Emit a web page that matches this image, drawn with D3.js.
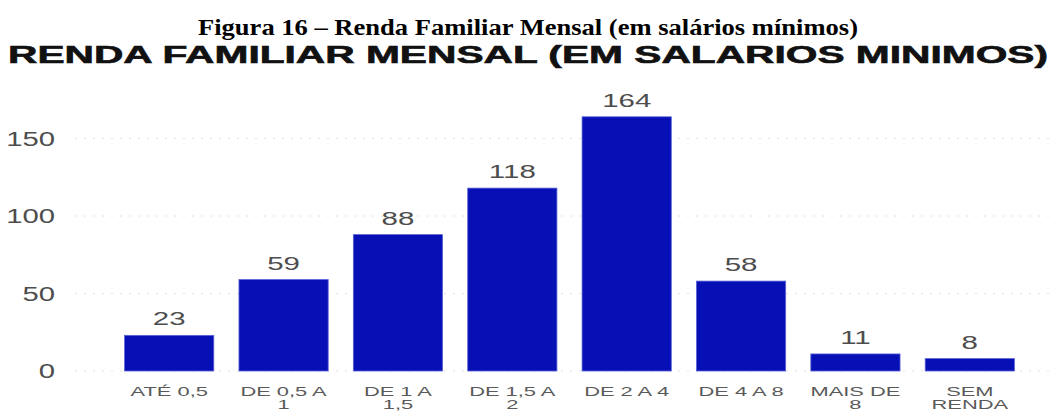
<!DOCTYPE html>
<html>
<head>
<meta charset="utf-8">
<script src="https://cdn.jsdelivr.net/npm/d3@7"></script>
<style>
  body { margin: 0; background: #fff; }
  svg { display: block; }
</style>
</head>
<body>
<div id="chart"></div>
<script>
// data
var categories = ["ATÉ 0,5", "DE 0,5 A\n1", "DE 1 A\n1,5", "DE 1,5 A\n2", "DE 2 A 4", "DE 4 A 8", "MAIS DE\n8", "SEM\nRENDA"];
var values = [23, 59, 88, 118, 164, 58, 11, 8];
var yTicks = [0, 50, 100, 150];

var captionText = "Figura 16 – Renda Familiar Mensal (em salários mínimos)";
var titleText = "RENDA FAMILIAR MENSAL (EM SALARIOS MINIMOS)";

function init() {
    var width = 1057;
    var height = 412;

    var svg = d3.select("#chart")
        .append("svg")
        .attr("width", width)
        .attr("height", height);

    // scales
    var x = d3.scaleBand()
        .domain(categories)
        .range([112, 1027])
        .paddingInner(0.22)
        .paddingOuter(0.11);

    var y = d3.scaleLinear()
        .domain([0, 175])
        .range([371, 371 - 175 * 1.55]);

    // text that is wider than the font (the picture is stretched sideways)
    function stretched(sel, px, py, sx) {
        return sel.attr("transform", "translate(" + px + "," + py + ") scale(" + sx + ",1)");
    }

    // figure caption
    svg.append("text")
        .attr("x", 198)
        .attr("y", 35)
        .attr("textLength", 660)
        .attr("lengthAdjust", "spacingAndGlyphs")
        .style("font-family", "'Liberation Serif', 'Times New Roman', serif")
        .style("font-weight", "bold")
        .style("font-size", "24px")
        .style("fill", "#000")
        .text(captionText);

    // chart title
    svg.append("text")
        .attr("x", 8)
        .attr("y", 63)
        .attr("textLength", 1040)
        .attr("lengthAdjust", "spacingAndGlyphs")
        .style("font-family", "'Liberation Sans', Arial, sans-serif")
        .style("font-weight", "bold")
        .style("font-size", "23.5px")
        .style("fill", "#111")
        .style("stroke", "#111")
        .style("stroke-width", 0.6)
        .text(titleText);

    // grid lines
    svg.append("g")
        .selectAll("line")
        .data(yTicks)
        .enter()
        .append("line")
        .attr("x1", 75)
        .attr("x2", 1052)
        .attr("y1", function (d) { return y(d); })
        .attr("y2", function (d) { return y(d); })
        .style("stroke", "#e2e2e2")
        .style("stroke-width", 1)
        .style("stroke-dasharray", "2,7");

    // y tick labels
    svg.append("g")
        .selectAll("text")
        .data(yTicks)
        .enter()
        .append("text")
        .each(function (d) {
            stretched(d3.select(this), 55, y(d) + 7, 1.5);
        })
        .attr("text-anchor", "end")
        .style("font-family", "'Liberation Sans', Arial, sans-serif")
        .style("font-size", "19.5px")
        .style("fill", "#4d4d4d")
        .text(function (d) { return d; });

    // bars
    svg.append("g")
        .selectAll("rect")
        .data(values)
        .enter()
        .append("rect")
        .attr("x", function (d, i) { return x(categories[i]); })
        .attr("y", function (d) { return y(d); })
        .attr("width", x.bandwidth())
        .attr("height", function (d) { return y(0) - y(d); })
        .style("fill", "#0710b4")
        .style("stroke", "#5a63d6")
        .style("stroke-width", 0.8);

    // value labels
    svg.append("g")
        .selectAll("text")
        .data(values)
        .enter()
        .append("text")
        .each(function (d, i) {
            stretched(d3.select(this), x(categories[i]) + x.bandwidth() / 2, y(d) - 10, 1.55);
        })
        .attr("text-anchor", "middle")
        .style("font-family", "'Liberation Sans', Arial, sans-serif")
        .style("font-size", "19px")
        .style("fill", "#4d4d4d")
        .text(function (d) { return d; });

    // x labels (two lines where needed)
    var xl = svg.append("g")
        .selectAll("text")
        .data(categories)
        .enter()
        .append("text")
        .each(function (d) {
            stretched(d3.select(this), x(d) + x.bandwidth() / 2, 396, 1.75);
        })
        .attr("text-anchor", "middle")
        .style("font-family", "'Liberation Sans', Arial, sans-serif")
        .style("font-size", "12.5px")
        .style("fill", "#5a5a5a");

    xl.selectAll("tspan")
        .data(function (d) { return d.split("\n"); })
        .enter()
        .append("tspan")
        .attr("x", 0)
        .attr("dy", function (d, i) { return i === 0 ? 0 : 13.5; })
        .text(function (d) { return d; });
}

window.onload = init;
</script>
</body>
</html>
